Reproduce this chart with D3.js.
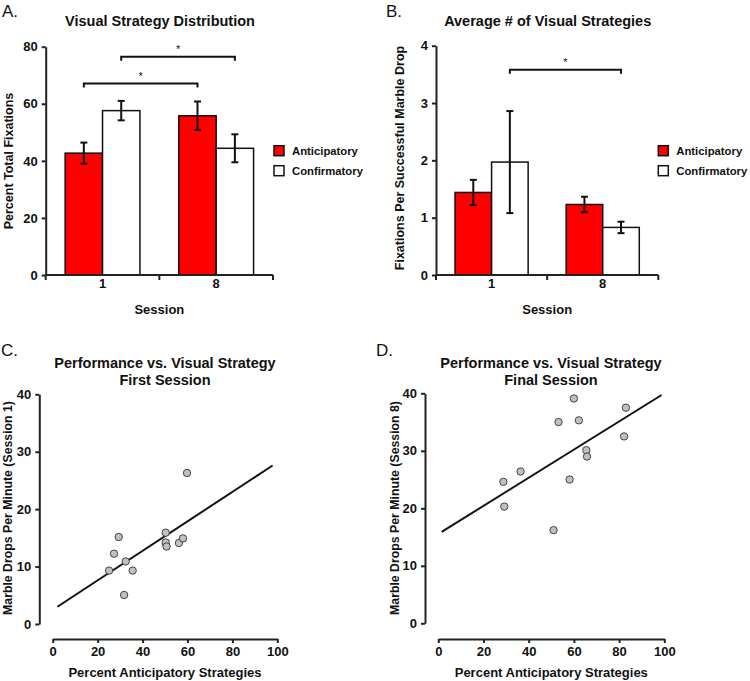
<!DOCTYPE html>
<html><head><meta charset="utf-8">
<script src="https://cdn.jsdelivr.net/npm/d3@7"></script>
<style>
body{margin:0;background:#fff;}
svg{font-family:"Liberation Sans",Arial,sans-serif;}
</style></head>
<body><svg id="c" width="750" height="681"></svg>
<script>
// ---------- DATA ----------
const sessions = ["1", "8"];
const seriesNames = ["Anticipatory", "Confirmatory"];
const seriesColors = ["#ff0000", "#ffffff"];

// Panel A: Percent Total Fixations
const aMeans = [[42.7, 57.6], [55.8, 44.4]];   // [session][series]
const aErrs  = [[3.7, 3.4], [5.0, 4.9]];
const aTicks = [0, 20, 40, 60, 80];
const aBrackets = [ {from:[0,0], to:[1,0], y:67.1}, {from:[0,1], to:[1,1], y:76.5} ];

// Panel B: Fixations per successful marble drop
const bMeans = [[1.44, 1.97], [1.23, 0.83]];
const bErrs  = [[0.22, 0.89], [0.135, 0.10]];
const bTicks = [0, 1, 2, 3, 4];
const bBrackets = [ {from:[0,1], to:[1,1], y:3.58} ];

// Panel C: First session scatter
const cX = [25.1, 27.3, 29.4, 32.5, 31.8, 35.6, 50.3, 50.3, 50.7, 56.2, 58.0, 59.8];
const cY = [9.3, 12.25, 15.15, 10.9, 5.05, 9.3, 15.9, 14.2, 13.5, 14.1, 14.9, 26.3];
const cLine = [[2.1, 3.0], [97.9, 27.6]];

// Panel D: Final session scatter
const dX = [28.8, 29.2, 36.4, 51.0, 53.2, 58.1, 60.0, 62.2, 65.5, 65.8, 82.2, 83.0];
const dY = [24.6, 20.3, 26.4, 16.2, 35.0, 25.0, 39.1, 35.3, 30.1, 29.0, 32.5, 37.5];
const dLine = [[1.5, 15.9], [98.8, 39.7]];

const scatterXTicks = [0, 20, 40, 60, 80, 100];
const scatterYTicks = [0, 10, 20, 30, 40];

// ---------- DRAW ----------
const svg = d3.select("#c");
const ink = "#111";

function text(g, x, y, s, opts={}) {
  return g.append("text").attr("x", x).attr("y", y).text(s)
    .attr("font-size", opts.size || 13)
    .attr("font-weight", opts.weight || "bold")
    .attr("text-anchor", opts.anchor || "middle")
    .attr("fill", ink);
}
function vlabel(x, y, s, size) {
  svg.append("text").attr("transform", `translate(${x},${y}) rotate(-90)`)
    .attr("text-anchor", "middle").attr("font-size", size).attr("font-weight", "bold")
    .attr("fill", ink).text(s);
}
function styleAxis(g) {
  g.selectAll("path.domain").attr("stroke", "#222").attr("stroke-width", 2);
  g.selectAll(".tick line").attr("stroke", "#222").attr("stroke-width", 2);
  g.selectAll(".tick text").attr("font-size", 13).attr("font-weight", "bold")
    .attr("fill", ink).attr("font-family", "Liberation Sans, Arial, sans-serif");
}

function barPanel(cfg) {
  const y = d3.scaleLinear().domain([cfg.ticks[0], cfg.ticks[cfg.ticks.length-1]]).range([cfg.bottom, cfg.top]);
  const x0 = d3.scaleBand().domain(sessions).range([cfg.left, cfg.right]).paddingInner(0).paddingOuter(0);
  const x1 = d3.scaleBand().domain(seriesNames).range([0, x0.bandwidth()]).paddingInner(0).paddingOuter(0.52);
  const g = svg.append("g");
  // bars
  sessions.forEach((s, i) => {
    seriesNames.forEach((n, j) => {
      const v = cfg.means[i][j];
      g.append("rect").attr("x", x0(s) + x1(n)).attr("y", y(v))
        .attr("width", x1.bandwidth()).attr("height", y(0) - y(v))
        .attr("fill", seriesColors[j]).attr("stroke", ink).attr("stroke-width", 1.5);
    });
  });
  // error bars
  sessions.forEach((s, i) => {
    seriesNames.forEach((n, j) => {
      const cx = x0(s) + x1(n) + x1.bandwidth()/2;
      const v = cfg.means[i][j], e = cfg.errs[i][j];
      g.append("line").attr("x1", cx).attr("x2", cx).attr("y1", y(v+e)).attr("y2", y(v-e))
        .attr("stroke", ink).attr("stroke-width", 2);
      [v+e, v-e].forEach(t => g.append("line").attr("x1", cx-3.5).attr("x2", cx+3.5)
        .attr("y1", y(t)).attr("y2", y(t)).attr("stroke", ink).attr("stroke-width", 2));
    });
  });
  // brackets
  cfg.brackets.forEach(b => {
    const xa = x0(sessions[b.from[0]]) + x1(seriesNames[b.from[1]]) + x1.bandwidth()/2;
    const xb = x0(sessions[b.to[0]]) + x1(seriesNames[b.to[1]]) + x1.bandwidth()/2;
    const yy = y(b.y);
    g.append("path").attr("d", `M${xa},${yy+4}V${yy}H${xb}V${yy+4}`)
      .attr("fill", "none").attr("stroke", ink).attr("stroke-width", 2);
    text(g, (xa+xb)/2, yy - 4, "*", {size: 11, weight: "normal"});
  });
  // y axis
  const ya = g.append("g").attr("transform", `translate(${cfg.left},0)`)
    .call(d3.axisLeft(y).tickValues(cfg.ticks).tickFormat(d3.format("d"))
      .tickSize(4).tickSizeOuter(0).tickPadding(4));
  styleAxis(ya);
  // x axis (band edges)
  g.append("line").attr("x1", cfg.left).attr("x2", cfg.right).attr("y1", cfg.bottom).attr("y2", cfg.bottom)
    .attr("stroke", "#222").attr("stroke-width", 2);
  const edges = sessions.map(s => x0(s)).concat([cfg.right]);
  edges.forEach(ex => g.append("line").attr("x1", ex).attr("x2", ex).attr("y1", cfg.bottom)
    .attr("y2", cfg.bottom + 5).attr("stroke", "#222").attr("stroke-width", 2));
  sessions.forEach(s => text(g, x0(s) + x0.bandwidth()/2, cfg.bottom + 13, s, {size: 13}));
  // legend
  seriesNames.forEach((n, j) => {
    const ly = cfg.legendY + j*20;
    g.append("rect").attr("x", cfg.legendX).attr("y", ly).attr("width", 10).attr("height", 10)
      .attr("fill", seriesColors[j]).attr("stroke", ink).attr("stroke-width", 1.5);
    text(g, cfg.legendX + 18, ly + 9.5, n, {size: 11.3, anchor: "start"});
  });
  // titles
  text(g, cfg.titleX, 26, cfg.title, {size: 14.5});
  text(g, cfg.letterX, 17, cfg.letter, {size: 17, weight: "normal", anchor: "start"});
  text(g, (cfg.left + cfg.right)/2, 314, "Session", {size: 13});
  vlabel(cfg.ylabX, cfg.ylabY, cfg.ylab, cfg.ylabSize);
}

function scatterPanel(cfg) {
  const x = d3.scaleLinear().domain([0, 100]).range([cfg.x0, cfg.x1]);
  const y = d3.scaleLinear().domain([0, 40]).range([cfg.bottom, cfg.top]);
  const g = svg.append("g");
  const ya = g.append("g").attr("transform", `translate(${cfg.yAxisX},0)`)
    .call(d3.axisLeft(y).tickValues(scatterYTicks).tickSize(4).tickSizeOuter(0).tickPadding(4));
  styleAxis(ya);
  const xa = g.append("g").attr("transform", `translate(0,${cfg.xAxisY})`)
    .call(d3.axisBottom(x).tickValues(scatterXTicks).tickSize(4).tickSizeOuter(0).tickPadding(4));
  styleAxis(xa);
  const line = d3.line().x(d => x(d[0])).y(d => y(d[1]));
  g.append("path").attr("d", line(cfg.fit)).attr("stroke", ink).attr("stroke-width", 2).attr("fill", "none");
  g.selectAll("circle.pt").data(d3.zip(cfg.xs, cfg.ys)).join("circle").attr("class", "pt")
    .attr("cx", d => x(d[0])).attr("cy", d => y(d[1])).attr("r", 3.7)
    .attr("fill", "#c0c0c0").attr("stroke", "#333").attr("stroke-width", 0.9);
  text(g, cfg.letterX, 356, cfg.letter, {size: 17, weight: "normal", anchor: "start"});
  text(g, cfg.titleX, 368, "Performance vs. Visual Strategy", {size: 14.5});
  text(g, cfg.titleX, 385, cfg.subtitle, {size: 14.5});
  text(g, (cfg.x0 + cfg.x1)/2, 677, "Percent Anticipatory Strategies", {size: 13});
  vlabel(cfg.ylabX, 508, cfg.ylab, 12.3);
}

barPanel({means: aMeans, errs: aErrs, ticks: aTicks, brackets: aBrackets,
  left: 45.7, right: 273, top: 46.7, bottom: 275,
  legendX: 274, legendY: 145.7, title: "Visual Strategy Distribution", titleX: 160,
  letter: "A.", letterX: 2, ylab: "Percent Total Fixations", ylabX: 13, ylabY: 161, ylabSize: 12.5});

barPanel({means: bMeans, errs: bErrs, ticks: bTicks, brackets: bBrackets,
  left: 436, right: 658.3, top: 45.7, bottom: 275,
  legendX: 658.3, legendY: 145.7, title: "Average # of Visual Strategies", titleX: 547.7,
  letter: "B.", letterX: 386, ylab: "Fixations Per Successful Marble Drop", ylabX: 404, ylabY: 158, ylabSize: 12.5});

scatterPanel({xs: cX, ys: cY, fit: cLine, x0: 52.7, x1: 277.3, top: 394.3, bottom: 624,
  yAxisX: 39.3, xAxisY: 639, letter: "C.", letterX: 1, titleX: 165, subtitle: "First Session",
  ylab: "Marble Drops Per Minute (Session 1)", ylabX: 12});

scatterPanel({xs: dX, ys: dY, fit: dLine, x0: 438.3, x1: 664.3, top: 393.3, bottom: 623.3,
  yAxisX: 425, xAxisY: 639, letter: "D.", letterX: 376, titleX: 551, subtitle: "Final Session",
  ylab: "Marble Drops Per Minute (Session 8)", ylabX: 399});
</script></body></html>
